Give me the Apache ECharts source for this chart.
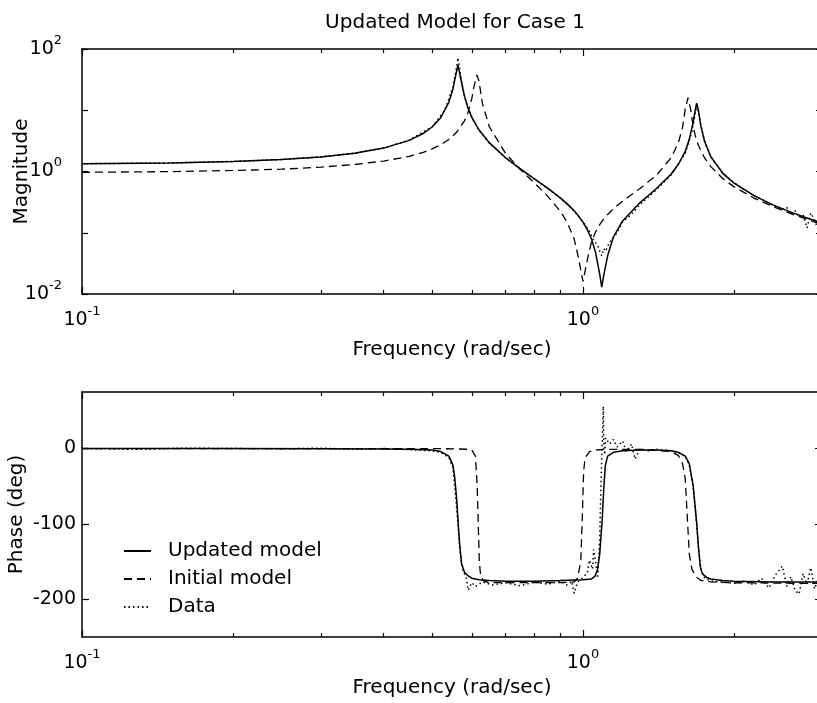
<!DOCTYPE html>
<html>
<head>
<meta charset="utf-8">
<script src="https://cdn.jsdelivr.net/npm/echarts@6/dist/echarts.min.js"></script>
<style>
html,body{margin:0;padding:0;background:#fff;}
#chart{width:817px;height:703px;}
</style>
</head>
<body>
<div id="chart"></div>
<script>
// ---------- data ----------
const seriesNames = ['Updated model', 'Initial model', 'Data'];

// Magnitude (top panel)
const magUpdatedFreq = [0.1,0.15,0.2,0.25,0.3,0.35,0.4,0.45,0.48,0.5,0.52,0.54,0.55,0.555,0.563,0.57,0.58,0.59,0.6,0.62,0.65,0.7,0.75,0.8,0.85,0.9,0.93,0.96,0.98,1.0,1.02,1.04,1.06,1.08,1.09,1.1,1.12,1.15,1.2,1.3,1.4,1.5,1.55,1.6,1.63,1.66,1.675,1.686,1.7,1.72,1.75,1.8,1.9,2.0,2.2,2.4,2.6,2.8,3.0];
const magUpdated = [1.34,1.38,1.46,1.57,1.73,1.99,2.41,3.22,4.18,5.33,7.55,13.6,22,32,55,33,17,10.7,7.65,4.79,2.96,1.69,1.10,0.76,0.535,0.374,0.296,0.228,0.187,0.149,0.113,0.079,0.047,0.021,0.013,0.02,0.042,0.085,0.156,0.311,0.522,0.91,1.30,2.13,3.32,6.5,10,13,10,5.4,3.05,1.74,0.94,0.65,0.40,0.283,0.217,0.174,0.144];

const magInitialFreq = [0.1,0.15,0.2,0.25,0.3,0.35,0.4,0.45,0.48,0.5,0.52,0.54,0.56,0.58,0.59,0.6,0.605,0.614,0.62,0.63,0.65,0.7,0.75,0.8,0.85,0.9,0.93,0.96,0.98,1.0,1.02,1.04,1.06,1.08,1.1,1.12,1.15,1.2,1.3,1.4,1.5,1.55,1.58,1.6,1.62,1.64,1.66,1.68,1.7,1.75,1.8,1.9,2.0,2.2,2.4,2.6,2.8,3.0];
const magInitial = [0.97,0.996,1.04,1.09,1.18,1.30,1.48,1.77,2.06,2.34,2.73,3.34,4.40,6.7,9.3,15.6,23,37.7,30,12.8,5.42,1.99,1.08,0.648,0.397,0.227,0.148,0.080,0.038,0.016,0.036,0.071,0.104,0.136,0.168,0.199,0.246,0.329,0.529,0.858,1.68,2.93,5.2,10.4,16,10.5,5.3,3.54,2.66,1.65,1.20,0.77,0.566,0.365,0.265,0.205,0.165,0.137];

const magDataFreq = [0.1,0.15,0.2,0.25,0.3,0.35,0.4,0.45,0.5,0.53,0.55,0.558,0.563,0.568,0.575,0.585,0.6,0.62,0.65,0.7,0.75,0.8,0.85,0.9,0.95,1.0,1.03,1.05,1.07,1.08,1.09,1.1,1.11,1.13,1.16,1.2,1.25,1.3,1.4,1.5,1.6,1.65,1.68,1.69,1.71,1.75,1.8,1.9,2.0,2.1,2.2,2.3,2.4,2.5,2.55,2.6,2.65,2.7,2.75,2.8,2.85,2.9,2.95,3.0];
const magData = [1.34,1.38,1.46,1.57,1.74,1.99,2.42,3.25,5.4,10,24,45,72,45,24,13,7.6,4.7,2.9,1.68,1.09,0.75,0.53,0.37,0.25,0.15,0.105,0.075,0.062,0.05,0.042,0.055,0.05,0.07,0.09,0.15,0.2,0.29,0.5,0.88,2.0,4.5,10,12,7,3.0,1.72,0.95,0.66,0.5,0.4,0.33,0.28,0.24,0.26,0.2,0.23,0.18,0.2,0.12,0.21,0.16,0.11,0.17];

// Phase (bottom panel)
const phaseUpdatedFreq = [0.1,0.2,0.3,0.4,0.45,0.5,0.52,0.54,0.55,0.555,0.56,0.563,0.567,0.572,0.58,0.59,0.6,0.62,0.65,0.7,0.8,0.9,1.0,1.04,1.055,1.068,1.08,1.0925,1.1,1.108,1.12,1.15,1.2,1.3,1.4,1.5,1.55,1.6,1.63,1.66,1.686,1.7,1.714,1.73,1.766,1.8,1.9,2.0,2.4,3.0];
const phaseUpdated = [0,0,-0.3,-0.7,-1,-2,-4,-10,-22,-40,-70,-95,-125,-152,-164,-169,-172,-174,-175,-176,-176,-175,-174,-173,-170,-162,-140,-94,-55,-23,-10,-5,-3,-2,-2,-3,-5,-10,-20,-50,-98,-130,-156,-166,-171,-173,-175,-176,-177,-177];

const phaseInitialFreq = [0.1,0.3,0.5,0.56,0.59,0.6,0.605,0.61,0.615,0.618,0.621,0.625,0.635,0.65,0.7,0.9,0.96,0.975,0.99,0.997,1.003,1.01,1.03,1.06,1.1,1.3,1.5,1.55,1.58,1.6,1.615,1.63,1.65,1.68,1.72,1.8,2.0,3.0];
const phaseInitial = [0,0,0,-0.5,-1,-2,-4,-10,-50,-100,-150,-170,-176,-178,-178,-178,-177,-172,-150,-90,-30,-12,-4,-2,-1,-1,-4,-9,-20,-40,-90,-140,-160,-170,-175,-177,-178,-179];

const phaseDataFreq = [0.1,0.13,0.16,0.2,0.25,0.3,0.35,0.4,0.45,0.5,0.52,0.54,0.55,0.558,0.563,0.568,0.575,0.585,0.59,0.6,0.61,0.63,0.66,0.7,0.75,0.8,0.85,0.9,0.93,0.95,0.96,0.97,0.98,1.0,1.02,1.03,1.045,1.05,1.06,1.07,1.08,1.085,1.09,1.095,1.098,1.1,1.105,1.11,1.13,1.15,1.17,1.2,1.22,1.25,1.27,1.3,1.35,1.4,1.5,1.55,1.6,1.63,1.66,1.686,1.7,1.72,1.75,1.8,1.9,2.0,2.1,2.2,2.27,2.35,2.42,2.5,2.55,2.6,2.65,2.7,2.75,2.8,2.85,2.9,2.95,3.0];
const phaseData = [0,-1,0.5,0,-0.5,0.5,-1,0,-1.5,-3,-5,-12,-25,-70,-100,-135,-160,-172,-188,-178,-183,-177,-181,-178,-182,-177,-180,-176,-181,-176,-192,-182,-176,-171,-165,-148,-160,-134,-150,-172,-120,-60,-15,30,56,10,-8,14,6,12,2,10,-4,6,-14,-1,-3,-1,-3,-5,-10,-22,-52,-100,-132,-160,-172,-176,-177,-179,-176,-181,-172,-185,-168,-156,-183,-170,-188,-193,-166,-180,-158,-186,-172,-200];

// Axis ticks / labels
const freqMajorTicks = [0.1, 1];
const freqMinorTicks = [0.2,0.3,0.4,0.5,0.6,0.7,0.8,0.9,2,3];
const magTicks = [0.01, 0.1, 1, 10, 100];
const magLabels = [0.01, 1, 100];
const phaseTicks = [-200, -100, 0];

// ---------- chart ----------
const FONT = 'DejaVu Sans';
function pairs(fs, vs) { return fs.map((f, i) => [f, vs[i]]); }
function powLabel(v) { const e = Math.round(Math.log10(v)); return '{b|10}{s|' + e + '}'; }
const powRich = {
  b: { fontFamily: FONT, fontSize: 19, color: '#000', lineHeight: 30 },
  s: { fontFamily: FONT, fontSize: 13, color: '#000', lineHeight: 9, verticalAlign: 'top' }
};
const LINE = { color: '#000', width: 1.5 };
const TICK = { color: '#000', width: 1.2 };

function xAx(grid, pos, ticks, len, showLine, extra) {
  return Object.assign({
    type: 'log', logBase: 10, gridIndex: grid, position: pos, min: 0.1, max: 3,
    axisLine: { show: showLine, onZero: false, lineStyle: LINE },
    axisTick: { show: true, inside: true, length: len, customValues: ticks, lineStyle: TICK },
    axisLabel: { show: false },
    splitLine: { show: false }, minorTick: { show: false }, minorSplitLine: { show: false }
  }, extra || {});
}
const freqLabel = { show: true, customValues: freqMajorTicks, formatter: powLabel, rich: powRich, margin: 11 };
const freqName = { name: 'Frequency (rad/sec)', nameLocation: 'middle', nameMoveOverlap: false,
  nameTextStyle: { fontFamily: FONT, fontSize: 20, color: '#000' } };

const xAxes = [
  xAx(0, 'bottom', freqMajorTicks, 7, true, Object.assign({ axisLabel: freqLabel, nameGap: 46 }, freqName)),
  xAx(0, 'bottom', freqMinorTicks, 4, false),
  xAx(0, 'top', freqMajorTicks, 7, true),
  xAx(0, 'top', freqMinorTicks, 4, false),
  xAx(1, 'bottom', freqMajorTicks, 7, true, Object.assign({ axisLabel: freqLabel, nameGap: 41 }, freqName)),
  xAx(1, 'bottom', freqMinorTicks, 4, false),
  xAx(1, 'top', freqMajorTicks, 7, true),
  xAx(1, 'top', freqMinorTicks, 4, false)
];

const yAxes = [
  { type: 'log', logBase: 10, gridIndex: 0, position: 'left', min: 0.01, max: 100,
    axisLine: { show: true, onZero: false, lineStyle: LINE },
    axisTick: { show: true, inside: true, length: 6, customValues: magTicks, lineStyle: TICK },
    axisLabel: { show: true, customValues: magLabels, formatter: powLabel, rich: powRich, margin: 20 },
    splitLine: { show: false }, minorTick: { show: false },
    name: 'Magnitude', nameLocation: 'middle', nameGap: 50, nameMoveOverlap: false,
    nameTextStyle: { fontFamily: FONT, fontSize: 20, color: '#000' } },
  { type: 'log', logBase: 10, gridIndex: 0, position: 'right', min: 0.01, max: 100,
    axisLine: { show: true, onZero: false, lineStyle: LINE },
    axisTick: { show: true, inside: true, length: 6, customValues: magTicks, lineStyle: TICK },
    axisLabel: { show: false }, splitLine: { show: false } },
  { type: 'value', gridIndex: 1, position: 'left', min: -250, max: 75,
    axisLine: { show: true, onZero: false, lineStyle: LINE },
    axisTick: { show: true, inside: true, length: 7, customValues: phaseTicks, lineStyle: TICK },
    axisLabel: { show: true, customValues: phaseTicks, margin: 6,
      fontFamily: FONT, fontSize: 19, color: '#000' },
    splitLine: { show: false },
    name: 'Phase (deg)', nameLocation: 'middle', nameGap: 55, nameMoveOverlap: false,
    nameTextStyle: { fontFamily: FONT, fontSize: 20, color: '#000' } },
  { type: 'value', gridIndex: 1, position: 'right', min: -250, max: 75,
    axisLine: { show: true, onZero: false, lineStyle: LINE },
    axisTick: { show: true, inside: true, length: 7, customValues: phaseTicks, lineStyle: TICK },
    axisLabel: { show: false }, splitLine: { show: false } }
];

const styles = [
  { type: 'solid', width: 1.5 },
  { type: [8, 5], width: 1.3 },
  { type: [1.5, 3], width: 1.5 }
];
function line(name, idx, xi, yi, data) {
  return { name: name, type: 'line', xAxisIndex: xi, yAxisIndex: yi, data: data,
    symbol: 'none', showSymbol: false, smooth: false, clip: true, silent: true,
    lineStyle: Object.assign({ color: '#000', cap: 'butt' }, styles[idx]),
    itemStyle: { color: '#000' }, z: 3 - idx };
}

const option = {
  backgroundColor: '#fff',
  animation: false,
  title: {
    text: 'Updated Model for Case 1', left: 455, top: 13, textAlign: 'center', padding: 0,
    textStyle: { fontFamily: FONT, fontSize: 20, fontWeight: 'normal', color: '#000' }
  },
  legend: {
    orient: 'vertical', left: 123, top: 541, padding: 0,
    itemWidth: 27, itemHeight: 20, itemGap: 8, selectedMode: false,
    data: seriesNames,
    itemStyle: { opacity: 0, borderWidth: 0 },
    textStyle: { fontFamily: FONT, fontSize: 20, color: '#000', padding: [0, 0, 0, 12] }
  },
  grid: [
    { left: 82, top: 49, width: 740, height: 245, outerBoundsMode: 'none', containLabel: false },
    { left: 82, top: 392, width: 740, height: 245, outerBoundsMode: 'none', containLabel: false }
  ],
  xAxis: xAxes,
  yAxis: yAxes,
  series: [
    line(seriesNames[0], 0, 0, 0, pairs(magUpdatedFreq, magUpdated)),
    line(seriesNames[1], 1, 0, 0, pairs(magInitialFreq, magInitial)),
    line(seriesNames[2], 2, 0, 0, pairs(magDataFreq, magData)),
    line(seriesNames[0], 0, 4, 2, pairs(phaseUpdatedFreq, phaseUpdated)),
    line(seriesNames[1], 1, 4, 2, pairs(phaseInitialFreq, phaseInitial)),
    line(seriesNames[2], 2, 4, 2, pairs(phaseDataFreq, phaseData))
  ]
};

const chart = echarts.init(document.getElementById('chart'), null, { renderer: 'canvas' });
chart.setOption(option);
</script>
</body>
</html>
